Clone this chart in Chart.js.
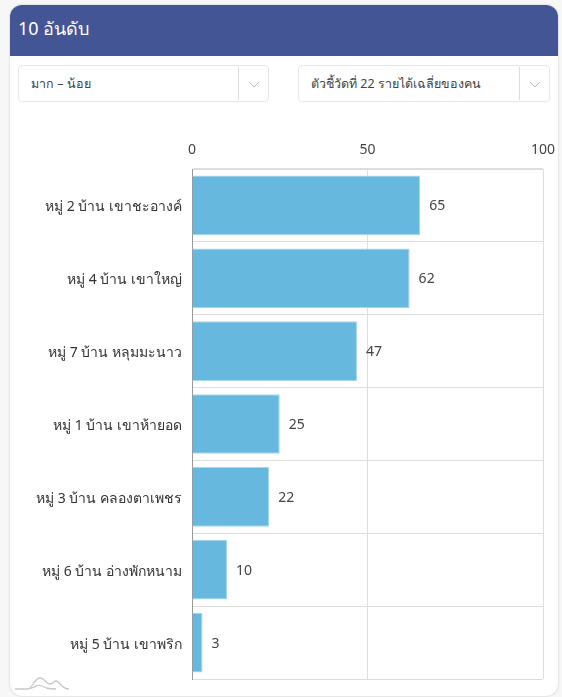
<!DOCTYPE html>
<html lang="th">
<head>
<meta charset="utf-8">
<title>10 อันดับ</title>
<script src="https://cdn.jsdelivr.net/npm/chart.js@4"></script>
<style>
html,body{margin:0;padding:0;width:562px;height:697px;overflow:hidden;background:#f7f7f7;font-family:"Noto Sans","Open Sans",sans-serif;color:#444}
#card{position:absolute;left:10px;top:5px;width:548px;height:691px;background:#fff;border-radius:12px;box-shadow:0 0 2px #bbb;overflow:hidden}
#head{position:absolute;left:0;top:0;width:100%;height:51px;background:#445595;color:#fff;font-size:18px;line-height:46px;text-indent:8px;font-weight:400}
.sel{position:absolute;top:60px;height:37px;background:#fff;border:1px solid #e6e6e6;border-radius:4px;font-size:12.5px;line-height:36px;box-sizing:border-box;white-space:nowrap}
.sel span{position:absolute;left:12px;top:0}
.sel i{position:absolute;right:0;top:1px;bottom:1px;width:29px;border-left:1px solid #ddd}
.sel svg{position:absolute;left:9px;top:14px}
#logo{position:absolute;left:15px;top:675px}
#c{position:absolute;left:0;top:130px}
</style>
</head>
<body>
<div id="card">
<div id="head">10 อันดับ</div>
<div class="sel" style="left:8px;width:251px"><span id="s1"></span><i><svg width="12" height="8"><path d="M1 1l5 5 5-5" fill="none" stroke="#bbb"/></svg></i></div>
<div class="sel" style="left:288px;width:252px"><span id="s2"></span><i><svg width="12" height="8"><path d="M1 1l5 5 5-5" fill="none" stroke="#bbb"/></svg></i></div>
</div>
<svg id="logo" width="54" height="16"><path d="M0 14h12c6 0 7-11 13-11 5 0 6 6 10 6 3 0 4-3 6-3 4 0 5 8 13 8M12 14c8 0 9-6 15-3 4 2 6 3 14 3" fill="none" stroke="#c8c8c8" stroke-width="1.3"/></svg>
<canvas id="c" width="562" height="567"></canvas>
<script>
const title = "10 อันดับ";
const sortLabel = "มาก – น้อย";
const indicatorLabel = "ตัวชี้วัดที่ 22 รายได้เฉลี่ยของคน";
const categories = ["หมู่ 2 บ้าน เขาชะอางค์","หมู่ 4 บ้าน เขาใหญ่","หมู่ 7 บ้าน หลุมมะนาว","หมู่ 1 บ้าน เขาห้ายอด","หมู่ 3 บ้าน คลองตาเพชร","หมู่ 6 บ้าน อ่างพักหนาม","หมู่ 5 บ้าน เขาพริก"];
const values = [65,62,47,25,22,10,3];
const xTicks = [0,50,100];

document.getElementById('s1').textContent = sortLabel;
document.getElementById('s2').textContent = indicatorLabel;

const fontFamily = '"Noto Sans","Open Sans",sans-serif';
const valueLabels = {
  id:'valueLabels',
  afterDatasetsDraw(chart){
    const {ctx} = chart;
    const meta = chart.getDatasetMeta(0);
    ctx.save();
    ctx.font = '14px '+fontFamily;
    ctx.fillStyle = '#444';
    ctx.textBaseline = 'middle';
    ctx.textAlign = 'left';
    meta.data.forEach((bar,i)=>ctx.fillText(String(values[i]), bar.x+9, bar.y+1));
    ctx.restore();
  }
};
new Chart(document.getElementById('c'),{
  type:'bar',
  data:{labels:categories,datasets:[{data:values,backgroundColor:'#66b8df',borderColor:'#a5d6ee',borderWidth:1,barPercentage:0.82,categoryPercentage:1}]},
  plugins:[valueLabels],
  options:{
    indexAxis:'y',responsive:false,animation:false,
    layout:{autoPadding:false,padding:{left:0,right:19,top:0,bottom:18}},
    plugins:{legend:{display:false},tooltip:{enabled:false}},
    scales:{
      x:{position:'top',min:0,max:100,
        afterFit(s){s.height=39;s.paddingLeft=0;s.paddingRight=0;},
        afterBuildTicks(s){s.ticks=xTicks.map(v=>({value:v}));},
        grid:{color:'#dedede',drawTicks:false},border:{color:'#dedede'},
        ticks:{color:'#444',padding:11,maxRotation:0,font:{size:14,family:fontFamily}}},
      y:{
        afterFit(s){s.width=192;s.paddingTop=0;s.paddingBottom=0;},
        grid:{color:'#dedede',drawTicks:false},border:{color:'#999'},
        ticks:{color:'#333',padding:10,autoSkip:false,labelOffset:2,font:{size:14,family:fontFamily}}}
    }
  }
});
</script>
</body>
</html>
